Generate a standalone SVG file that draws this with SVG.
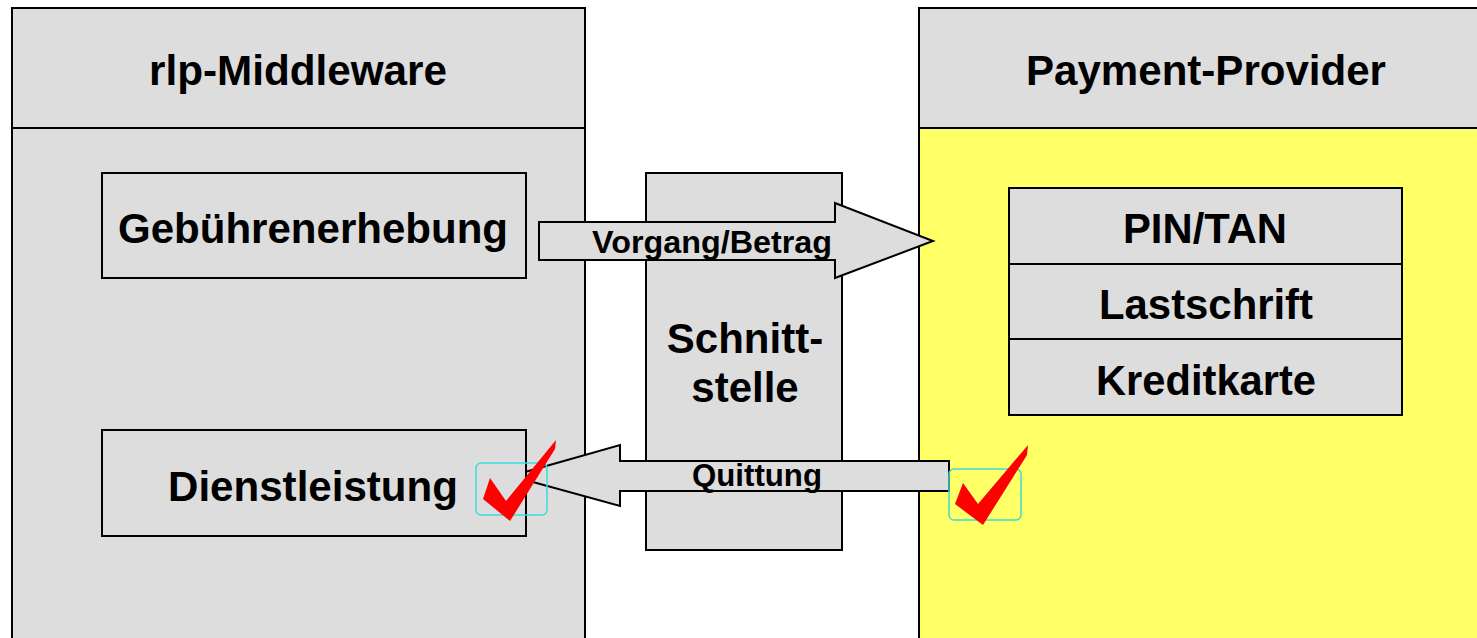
<svg xmlns="http://www.w3.org/2000/svg" width="1477" height="638" viewBox="0 0 1477 638">
<style>
.box{fill:#DDDDDD;stroke:#000;stroke-width:2}
.yel{fill:#FFFF66;stroke:#000;stroke-width:2}
.ln{stroke:#000;stroke-width:2;fill:none}
.t{font-family:"Liberation Sans",Arial,sans-serif;font-weight:bold;fill:#000;text-anchor:middle}
.big{font-size:42px}
.lbl{font-size:31px}
.sel{fill:none;stroke:#3ADCDC;stroke-width:1.5}
.chk{fill:#FF0000}
</style>
<rect width="1477" height="638" fill="#FFFFFF"/>
<g id="rlp-middleware">
<rect class="box" x="12" y="8" width="573" height="650"/>
<line class="ln" x1="12" y1="128" x2="585" y2="128"/>
<text class="t big" x="298" y="85" textLength="298" lengthAdjust="spacingAndGlyphs">rlp-Middleware</text>
</g>
<g id="payment-provider">
<rect class="box" x="919" y="8" width="570" height="120"/>
<rect class="yel" x="919" y="128" width="570" height="530"/>
<text class="t big" x="1206" y="85" textLength="360" lengthAdjust="spacingAndGlyphs">Payment-Provider</text>
</g>
<g id="schnittstelle">
<rect class="box" x="646" y="173" width="196" height="377"/>
<text class="t big" x="745" y="353">Schnitt-</text>
<text class="t big" x="745" y="402">stelle</text>
</g>
<g id="connectors">
<g id="vorgang-betrag">
<polygon class="box" points="539,222 835,222 835,203 933,241 835,278 835,260 539,260"/>
<text class="t lbl" x="712" y="253" textLength="240" lengthAdjust="spacingAndGlyphs">Vorgang/Betrag</text>
</g>
<g id="quittung">
<polygon class="box" points="949,461 620,461 620,445 511,476 620,506 620,491 949,491"/>
<text class="t lbl" x="757" y="486" textLength="130" lengthAdjust="spacingAndGlyphs">Quittung</text>
</g>
</g>
<g id="gebuehrenerhebung">
<rect class="box" x="102" y="173" width="424" height="105"/>
<text class="t big" x="313" y="243" textLength="390" lengthAdjust="spacingAndGlyphs">Gebührenerhebung</text>
</g>
<g id="dienstleistung">
<rect class="box" x="102" y="430" width="424" height="106"/>
<text class="t big" x="313" y="501" textLength="290" lengthAdjust="spacingAndGlyphs">Dienstleistung</text>
</g>
<g id="zahlarten">
<rect class="box" x="1009" y="188" width="393" height="76"/>
<rect class="box" x="1009" y="264" width="393" height="75"/>
<rect class="box" x="1009" y="339" width="393" height="76"/>
<text class="t big" x="1205" y="243" textLength="164" lengthAdjust="spacingAndGlyphs">PIN/TAN</text>
<text class="t big" x="1206" y="319" textLength="214" lengthAdjust="spacingAndGlyphs">Lastschrift</text>
<text class="t big" x="1206" y="395" textLength="220" lengthAdjust="spacingAndGlyphs">Kreditkarte</text>
</g>
<g id="check-dienstleistung">
<rect class="sel" x="476" y="463" width="71" height="52" rx="5"/>
<polygon class="chk" points="556,440 555,449 510,521 483,499 490,478 506,501"/>
</g>
<g id="check-provider">
<rect class="sel" x="949" y="469" width="72" height="51" rx="5"/>
<polygon class="chk" points="1028,445 1027,455 983,525 955,504 963,483 978,504"/>
</g>
</svg>
